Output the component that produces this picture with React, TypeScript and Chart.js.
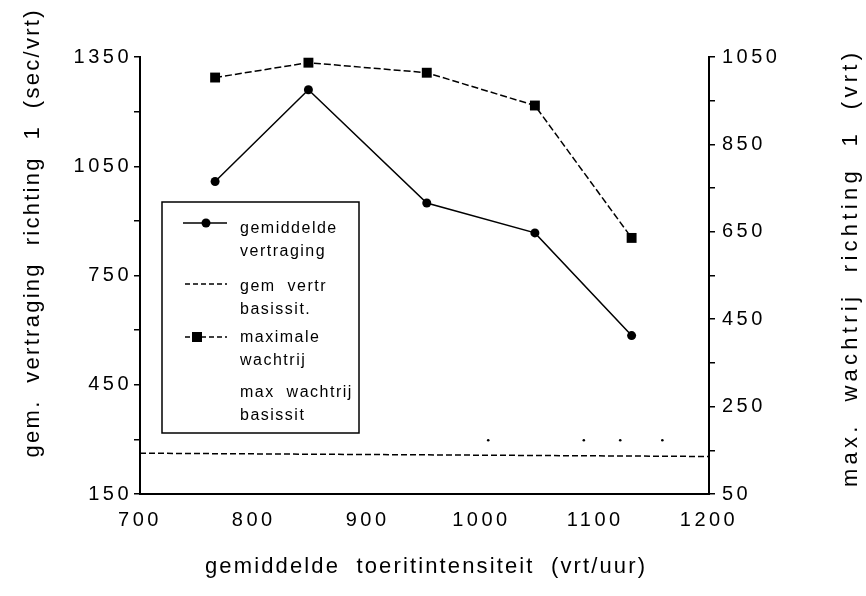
import React, { useEffect, useRef } from "react";
import { Chart, registerables } from "chart.js";

Chart.register(...registerables);

// ---- data ----
const xIntensity = [766, 848, 952, 1047, 1132];
const avgDelay = [1008, 1260, 949, 867, 585];
const maxQueue = [1003, 1037, 1014, 939, 636];
const baseDelayX = [700, 1200];
const baseDelay = [262, 253];
const baseQueueX = [1006, 1090, 1122, 1159];
const baseQueue = [173, 173, 173, 173];

const xMin = 700, xMax = 1200, xStep = 100;
const yLeftMin = 150, yLeftMax = 1350, yLeftStep = 150, yLeftLabelStep = 300;
const yRightMin = 50, yRightMax = 1050, yRightStep = 100, yRightLabelStep = 200;

const legendLabels = [
  ["gemiddelde", "vertraging"],
  ["gem  vertr", "basissit."],
  ["maximale", "wachtrij"],
  ["max  wachtrij", "basissit"],
];
const xTitle = "gemiddelde  toeritintensiteit  (vrt/uur)";
const yLeftTitle = "gem.  vertraging  richting  1  (sec/vrt)";
const yRightTitle = "max.  wachtrij  richting  1  (vrt)";

const W = 866, H = 596;
const FONT = '"Liberation Sans", Arial, sans-serif';
const TICK_SPACING = "3.5px";

function spacedText(
  ctx: CanvasRenderingContext2D,
  text: string,
  cx: number,
  cy: number,
  width: number,
  size: number,
  rot: number
) {
  ctx.save();
  ctx.font = `${size}px ${FONT}`;
  (ctx as any).letterSpacing = "0px";
  const w0 = ctx.measureText(text).width;
  const ls = (width - w0) / Math.max(1, text.length - 1);
  (ctx as any).letterSpacing = `${ls}px`;
  ctx.translate(cx, cy);
  ctx.rotate(rot);
  ctx.textAlign = "left";
  ctx.textBaseline = "middle";
  ctx.fillStyle = "#000";
  ctx.fillText(text, -width / 2, 0);
  ctx.restore();
}

const decorPlugin = {
  id: "decor",
  beforeLayout(chart: any) {
    chart.ctx.letterSpacing = TICK_SPACING;
  },
  beforeDraw(chart: any) {
    chart.ctx.letterSpacing = TICK_SPACING;
  },
  afterDraw(chart: any) {
    const ctx: CanvasRenderingContext2D = chart.ctx;
    // axis titles
    spacedText(ctx, yLeftTitle, 33, 234, 447, 22, -Math.PI / 2);
    spacedText(ctx, yRightTitle, 851, 270, 434, 22, -Math.PI / 2);
    spacedText(ctx, xTitle, 425, 567, 440, 22, 0);

    // legend box
    ctx.save();
    (ctx as any).letterSpacing = "0px";
    ctx.fillStyle = "#fff";
    ctx.fillRect(162, 202, 197, 231);
    ctx.strokeStyle = "#000";
    ctx.lineWidth = 1.5;
    ctx.strokeRect(162, 202, 197, 231);

    // 1: solid line with circle
    ctx.setLineDash([]);
    ctx.beginPath();
    ctx.moveTo(183, 223);
    ctx.lineTo(227, 223);
    ctx.stroke();
    ctx.fillStyle = "#000";
    ctx.beginPath();
    ctx.arc(206, 223, 4.5, 0, Math.PI * 2);
    ctx.fill();
    // 2: dashed line
    ctx.setLineDash([5, 3]);
    ctx.beginPath();
    ctx.moveTo(185, 284);
    ctx.lineTo(227, 284);
    ctx.stroke();
    // 3: dashed with square
    ctx.beginPath();
    ctx.moveTo(185, 337);
    ctx.lineTo(227, 337);
    ctx.stroke();
    ctx.setLineDash([]);
    ctx.fillRect(192, 332, 10, 10);

    // texts
    ctx.font = `16px ${FONT}`;
    (ctx as any).letterSpacing = "1.5px";
    ctx.textAlign = "left";
    ctx.textBaseline = "middle";
    const rows = [
      [229, 252],
      [287, 310],
      [338, 361],
      [393, 416],
    ];
    legendLabels.forEach((lines, i) => {
      lines.forEach((t, j) => ctx.fillText(t, 240, rows[i][j]));
    });
    ctx.restore();
  },
};

export default function App() {
  const ref = useRef<HTMLCanvasElement>(null);
  useEffect(() => {
    const tickFont = { family: FONT, size: 20 };
    const chart = new Chart(ref.current!, {
      type: "line",
      data: {
        datasets: [
          {
            label: "gemiddelde vertraging",
            data: xIntensity.map((x, i) => ({ x, y: avgDelay[i] })),
            yAxisID: "y",
            borderColor: "#000",
            borderWidth: 1.5,
            pointRadius: 4.5,
            pointBackgroundColor: "#000",
            pointBorderColor: "#000",
            pointBorderWidth: 0,
          },
          {
            label: "gem vertr basissit.",
            data: baseDelayX.map((x, i) => ({ x, y: baseDelay[i] })),
            yAxisID: "y",
            borderColor: "#000",
            borderWidth: 1.5,
            borderDash: [6, 3],
            pointRadius: 0,
          },
          {
            label: "maximale wachtrij",
            data: xIntensity.map((x, i) => ({ x, y: maxQueue[i] })),
            yAxisID: "y1",
            borderColor: "#000",
            borderWidth: 1.5,
            borderDash: [7, 3],
            pointStyle: "rect",
            pointRadius: 7,
            pointBackgroundColor: "#000",
            pointBorderColor: "#000",
            pointBorderWidth: 0,
          },
          {
            label: "max wachtrij basissit",
            data: baseQueueX.map((x, i) => ({ x, y: baseQueue[i] })),
            yAxisID: "y1",
            showLine: false,
            pointRadius: 1.3,
            pointBackgroundColor: "#000",
            pointBorderWidth: 0,
          },
        ],
      },
      options: {
        responsive: false,
        animation: false,
        layout: { padding: { top: 57, left: 0, right: 0, bottom: 0 } },
        plugins: { legend: { display: false }, tooltip: { enabled: false } },
        scales: {
          x: {
            type: "linear",
            min: xMin,
            max: xMax,
            ticks: {
              stepSize: xStep,
              font: tickFont,
              color: "#000",
              padding: 14,
              maxRotation: 0,
              callback: (v: any) => String(v),
            },
            grid: { display: true, drawOnChartArea: false, drawTicks: false },
            border: { display: true, color: "#000", width: 2 },
            afterFit: (s: any) => {
              s.height = 102;
            },
          },
          y: {
            position: "left",
            min: yLeftMin,
            max: yLeftMax,
            ticks: {
              stepSize: yLeftStep,
              font: tickFont,
              color: "#000",
              padding: 2,
              callback: (v: any) => ((v - yLeftMin) % yLeftLabelStep === 0 ? String(v) : ""),
            },
            grid: { display: true, drawOnChartArea: false, drawTicks: true, tickLength: 6, color: "#000", lineWidth: 1.5 },
            border: { display: true, color: "#000", width: 2 },
            afterFit: (s: any) => {
              s.width = 140;
            },
          },
          y1: {
            position: "right",
            min: yRightMin,
            max: yRightMax,
            ticks: {
              stepSize: yRightStep,
              font: tickFont,
              color: "#000",
              padding: 7,
              callback: (v: any) => ((v - yRightMin) % yRightLabelStep === 0 ? String(v) : ""),
            },
            grid: { display: true, drawOnChartArea: false, drawTicks: true, tickLength: 6, color: "#000", lineWidth: 1.5 },
            border: { display: true, color: "#000", width: 2 },
            afterFit: (s: any) => {
              s.width = 157;
            },
          },
        },
      } as any,
      plugins: [decorPlugin],
    });
    return () => chart.destroy();
  }, []);
  return (
    <div style={{ position: "fixed", left: 0, top: 0, width: W, height: H }}>
      <canvas ref={ref} width={W} height={H} style={{ display: "block" }} />
    </div>
  );
}
